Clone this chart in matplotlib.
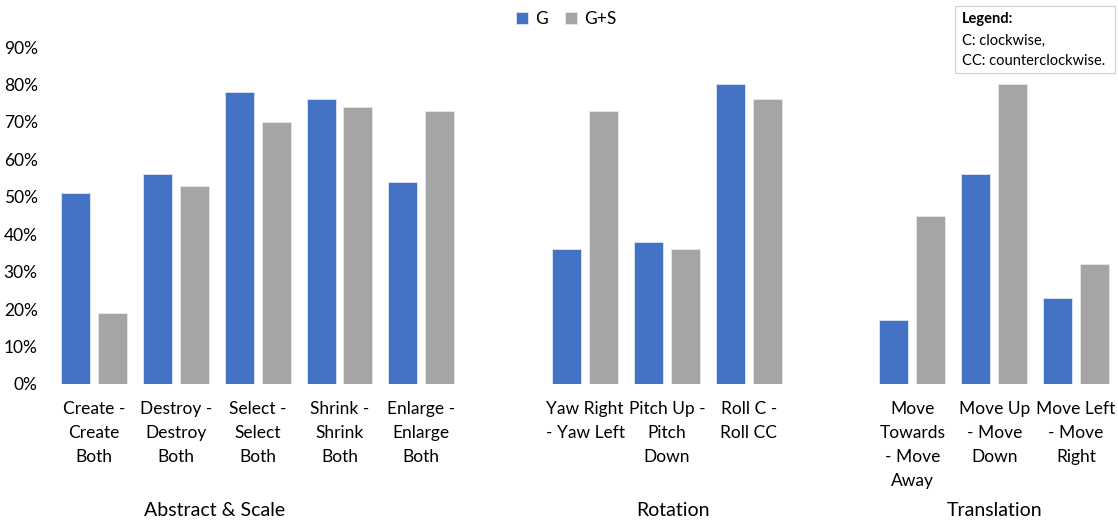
import numpy as np
import matplotlib
matplotlib.use("Agg")
import matplotlib.pyplot as plt
from matplotlib.transforms import blended_transform_factory

plt.rcParams['font.family'] = ['Lato', 'DejaVu Sans']

# data
labels = ["Create -\nCreate\nBoth", "Destroy -\nDestroy\nBoth", "Select -\nSelect\nBoth",
          "Shrink -\nShrink\nBoth", "Enlarge -\nEnlarge\nBoth",
          "Yaw Right\n- Yaw Left", "Pitch Up -\nPitch\nDown", "Roll C -\nRoll CC",
          "Move\nTowards\n- Move\nAway", "Move Up\n- Move\nDown", "Move Left\n- Move\nRight"]
slots = [0, 1, 2, 3, 4, 6, 7, 8, 10, 11, 12]
g_vals = [51, 56, 78, 76, 54, 36, 38, 80, 17, 56, 23]
gs_vals = [19, 53, 70, 74, 73, 73, 36, 76, 45, 80, 32]
groups = ["Abstract & Scale", "Rotation", "Translation"]
group_pos = [1.47, 7.07, 11.0]

blue = "#4472C4"
gray = "#A5A5A5"

fig = plt.figure(figsize=(11.18, 5.23), dpi=100)
ax = fig.add_axes([53/1118, 1 - 384/523, 1064/1118, 337/523])

x = np.array(slots)
w = 0.355
ax.bar(x - 0.225, np.array(g_vals) / 100, w, color=blue, edgecolor="#dde6f5", linewidth=0.6, label="G")
ax.bar(x + 0.225, np.array(gs_vals) / 100, w, color=gray, edgecolor="#e8e8e8", linewidth=0.6, label="G+S")

ax.set_xlim(-0.5, 12.5)
ax.set_ylim(0, 0.9)
ax.set_yticks(np.arange(0, 0.91, 0.1))
ax.set_yticklabels([f"{int(round(v*100))}%" for v in np.arange(0, 0.91, 0.1)], fontsize=12.5)
ax.set_xticks(slots)
ax.set_xticklabels(labels, fontsize=12.5, va="top", linespacing=1.6)
ax.tick_params(axis="x", length=0, pad=12.5)
ax.tick_params(axis="y", length=0, pad=11)
for s in ax.spines.values():
    s.set_visible(False)

trans = blended_transform_factory(ax.transData, fig.transFigure)
for g, p in zip(groups, group_pos):
    ax.text(p, 1 - 510/523, g, transform=trans, ha="center", va="center", fontsize=14)

fig.legend(loc="center", bbox_to_anchor=(566/1118, 1 - 19/523), ncol=2, frameon=False,
           fontsize=12.5, handlelength=0.7, handleheight=0.7, handletextpad=0.4, columnspacing=1.0)

fig.text(962/1118, 1 - 19/523, "Legend:", fontsize=10.5, fontweight="bold", va="center")
fig.text(962/1118, 1 - 41/523, "C: clockwise,", fontsize=10.5, va="center")
fig.text(962/1118, 1 - 61/523, "CC: counterclockwise.", fontsize=10.5, va="center")
fig.patches.append(plt.Rectangle((955/1118, 1 - 73/523), 160/1118, 67/523, transform=fig.transFigure,
                                 fill=False, edgecolor="#d0d0d0", linewidth=0.8))

fig.savefig("out.png", dpi=100)
